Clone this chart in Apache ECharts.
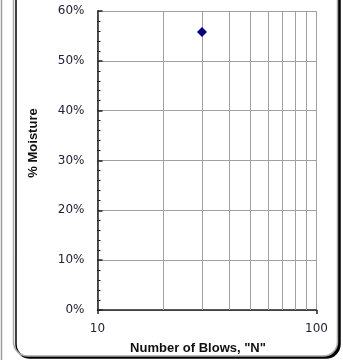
<!DOCTYPE html>
<html>
<head>
<meta charset="utf-8">
<script src="https://cdn.jsdelivr.net/npm/echarts@6/dist/echarts.min.js"></script>
<style>html,body{margin:0;padding:0;background:#fff}#c{width:343px;height:360px}</style>
</head>
<body>
<div id="c"></div>
<script>
var blows = [30];
var moisture = [0.558];
var gridBlows = [20, 30, 40, 50, 60, 70, 80, 90];
var yTicks = [0, 0.1, 0.2, 0.3, 0.4, 0.5, 0.6];
var xTitle = 'Number of Blows, "N"';
var yTitle = '% Moisture';

var chart = echarts.init(document.getElementById('c'), null, {renderer: 'canvas'});
var labelFont = {fontFamily: 'DejaVu Sans', fontSize: 12, color: '#222238'};
chart.setOption({
  animation: false,
  backgroundColor: '#fff',
  graphic: [
    {type: 'line', z: -10, shape: {x1: 1.5, y1: 0, x2: 1.5, y2: 360}, style: {stroke: '#9a9a9a', lineWidth: 1.5}},
    {type: 'rect', z: -10, shape: {x: 13.5, y: -30, width: 324, height: 386, r: 14},
     style: {fill: '#fff', stroke: '#a8a8a8', lineWidth: 1.5, shadowColor: '#000', shadowOffsetX: 2.5, shadowOffsetY: 2, shadowBlur: 0}},
    {type: 'text', x: 33, y: 143, rotation: Math.PI / 2, z: 10,
     style: {text: yTitle, font: 'bold 13px "Liberation Sans", Arial', fill: '#111', align: 'center', verticalAlign: 'middle'}},
    {type: 'text', x: 198, y: 348, z: 10,
     style: {text: xTitle, font: 'bold 13px "Liberation Sans", Arial', fill: '#111', align: 'center', verticalAlign: 'middle'}}
  ],
  grid: {left: 97.5, right: 26.5, top: 11, bottom: 50, containLabel: false},
  xAxis: {
    type: 'log', logBase: 10, min: 10, max: 100, interval: 1,
    axisLine: {show: true, lineStyle: {color: '#222', width: 1.5}},
    axisTick: {show: true, length: 4, lineStyle: {color: '#222', width: 1.5}},
    axisLabel: Object.assign({margin: 13, showMinLabel: true, showMaxLabel: true}, labelFont),
    splitLine: {show: true, lineStyle: {color: '#a0a0a0', width: 1}}
  },
  yAxis: {
    type: 'value', min: 0, max: 0.6, interval: 0.1,
    axisLine: {show: true, lineStyle: {color: '#222', width: 1.5}},
    axisTick: {show: true, inside: true, length: 5, lineStyle: {color: '#222', width: 1.5}},
    minorTick: {show: true, splitNumber: 5, length: 3, lineStyle: {color: '#222', width: 1}},
    axisLabel: Object.assign({margin: 13, formatter: function (v) { return Math.round(v * 100) + '%'; }}, labelFont),
    splitLine: {show: true, lineStyle: {color: '#a0a0a0', width: 1}}
  },
  series: [{
    type: 'scatter',
    data: blows.map(function (b, i) { return [b, moisture[i]]; }),
    symbol: 'diamond', symbolSize: 10,
    itemStyle: {color: '#000080', opacity: 1},
    z: 5,
    markLine: {
      silent: true, symbol: 'none', label: {show: false},
      lineStyle: {color: '#a0a0a0', width: 1, type: 'solid'},
      data: gridBlows.map(function (g) { return {xAxis: g}; })
    }
  }]
});
</script>
</body>
</html>
